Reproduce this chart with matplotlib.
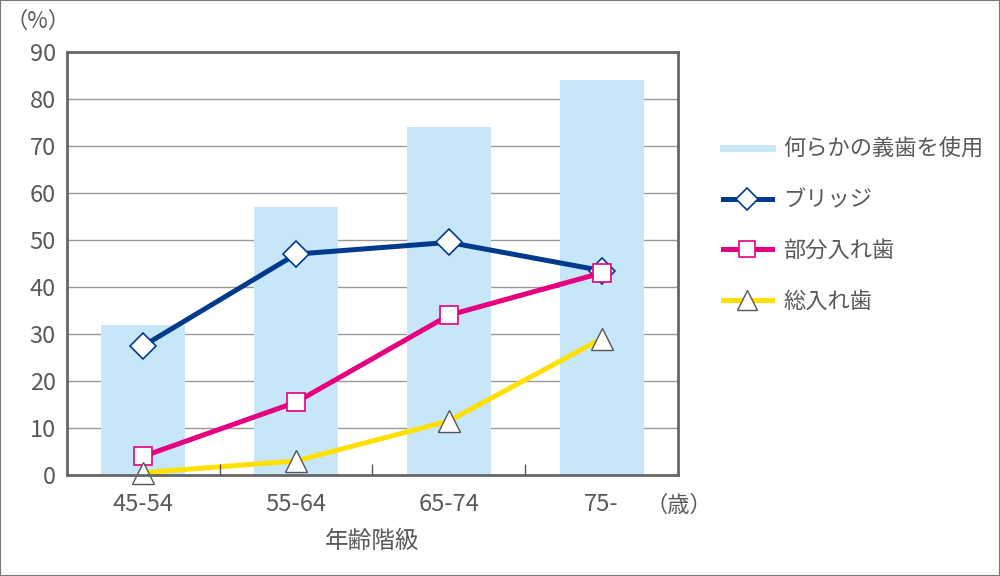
import matplotlib
matplotlib.use('Agg')
from matplotlib import pyplot as plt
from matplotlib.lines import Line2D
from matplotlib.patches import Rectangle

plt.rcParams['font.family'] = ['Noto Sans CJK JP', 'DejaVu Sans']

# data
age_groups = ['45-54', '55-64', '65-74', '75-']
any_denture = [32, 57, 74, 84]
bridge = [27.5, 47, 49.5, 43.5]
partial = [4, 15.5, 34, 43]
full = [0.5, 3, 11.5, 29]

labels = ['何らかの義歯を使用', 'ブリッジ', '部分入れ歯', '総入れ歯']

text_c = '#595959'
bar_c = '#c7e6f8'
blue = '#003a8c'
pink = '#e4007f'
yellow = '#ffe100'

fig = plt.figure(figsize=(10, 5.76), dpi=100)
ax = fig.add_axes([0.067, 0.1753, 0.611, 0.7344])

x = list(range(len(age_groups)))
ax.bar(x, any_denture, width=0.55, color=bar_c, zorder=2)
ax.plot(x, bridge, color=blue, lw=3.6, marker='D', ms=13, mfc='white',
        mec=blue, mew=1.2, zorder=3)
ax.plot(x, partial, color=pink, lw=3.6, marker='s', ms=13, mfc='white',
        mec=pink, mew=1.2, zorder=4)
ax.plot(x, full, color=yellow, lw=3.6, marker='^', ms=16, mfc='white',
        mec='#555555', mew=1.0, zorder=5, clip_on=False)

ax.set_xlim(-0.5, 3.5)
ax.set_ylim(0, 90)
ax.set_yticks(range(0, 91, 10))
ax.set_xticks(x)
ax.set_xticklabels(age_groups)
ax.set_xticks([0.5, 1.5, 2.5], minor=True)
ax.tick_params(axis='x', which='major', length=0, pad=13, labelsize=17,
               labelcolor=text_c)
ax.tick_params(axis='x', which='minor', direction='in', length=8,
               width=1, color='#555555')
ax.tick_params(axis='y', length=0, pad=8, labelsize=17, labelcolor=text_c)

# grid behind the bars, x ticks in front
ax.grid(axis='y', color='#999999', lw=1)
ax.set_axisbelow(False)
ax.yaxis.set_zorder(1)
ax.xaxis.set_zorder(6)
for s in ax.spines.values():
    s.set_color('#666666')
    s.set_linewidth(2)
    s.set_zorder(6)

fig.text(0.038, 0.963, '（%）', ha='center', va='center', fontsize=16, color=text_c)
fig.text(0.679, 0.122, '（歳）', ha='center', va='center', fontsize=16, color=text_c)
ax.set_xlabel('年齢階級', fontsize=17, color=text_c, labelpad=10)

handles = [
    Line2D([], [], color=bar_c, lw=5),
    Line2D([], [], color=blue, lw=3.6, marker='D', ms=11, mfc='white', mec=blue, mew=1.2),
    Line2D([], [], color=pink, lw=3.6, marker='s', ms=11, mfc='white', mec=pink, mew=1.2),
    Line2D([], [], color=yellow, lw=3.6, marker='^', ms=14, mfc='white', mec='#555555', mew=1.0),
]
leg = fig.legend(handles, labels, loc='center left', bbox_to_anchor=(0.703, 0.609),
                 frameon=False, fontsize=16, handlelength=2.2, handletextpad=0.5,
                 labelspacing=1.25)
for t in leg.get_texts():
    t.set_color(text_c)

fig.patches.append(Rectangle((0, 0), 1, 1, transform=fig.transFigure, fill=False,
                             edgecolor='#777777', lw=1.5))

fig.savefig('out.png', dpi=100)
